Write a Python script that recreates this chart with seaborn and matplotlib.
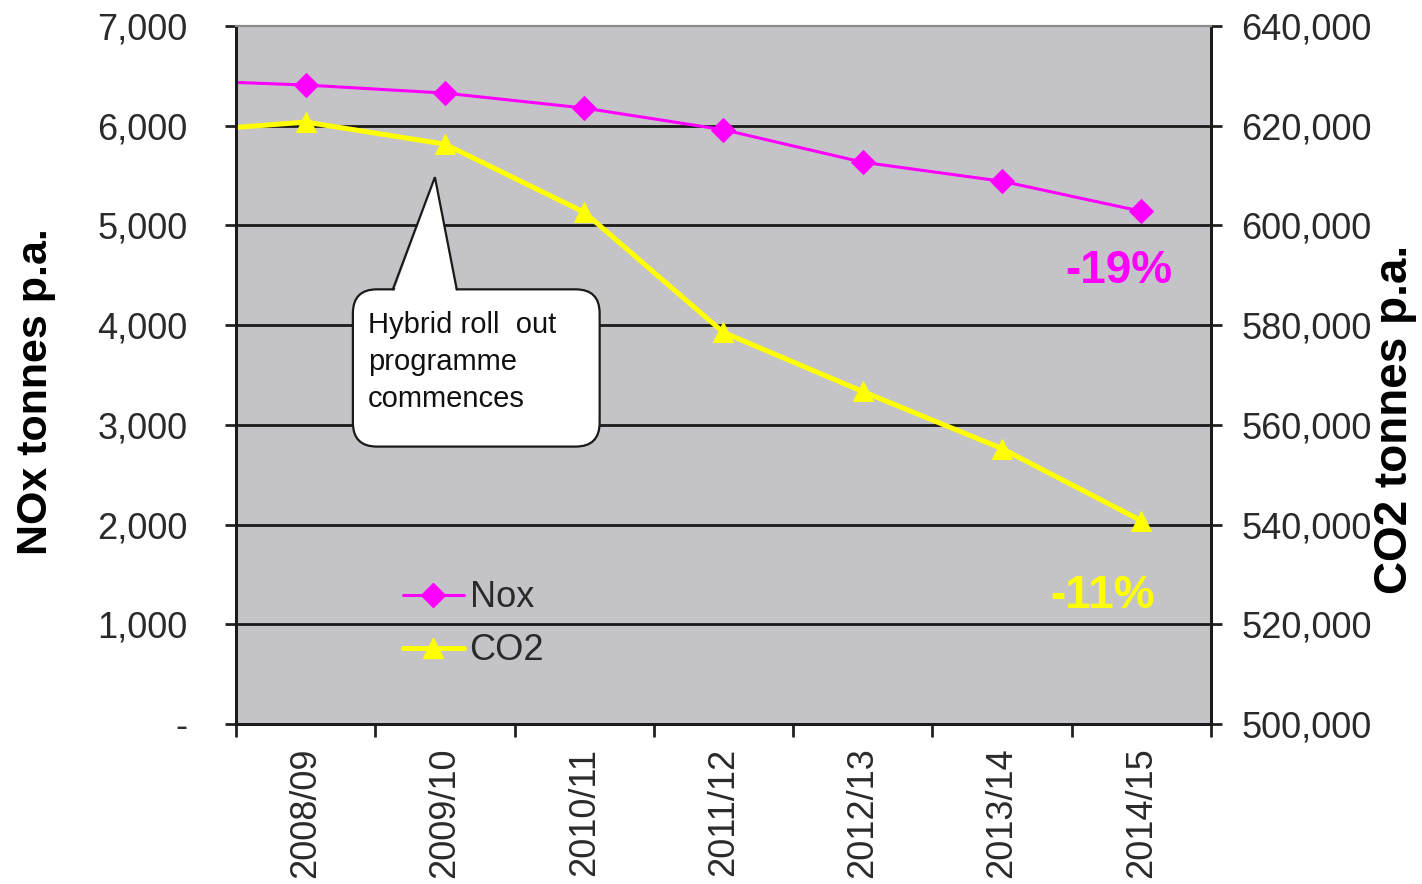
import numpy as np
import pandas as pd
import matplotlib
matplotlib.use("Agg")
import matplotlib.pyplot as plt
import seaborn as sns
from matplotlib.patches import FancyBboxPatch, Polygon
from matplotlib.lines import Line2D
from matplotlib.ticker import FuncFormatter, FixedLocator

# ---- data -------------------------------------------------------------
years = ["2007/08", "2008/09", "2009/10", "2010/11", "2011/12",
         "2012/13", "2013/14", "2014/15"]
nox_tonnes = [6460, 6408, 6327, 6177, 5960, 5634, 5443, 5142]
co2_tonnes = [618600, 620720, 616300, 602640, 578540, 566690, 555240, 540780]
shown_years = years[1:]
nox_change_label = "-19%"
co2_change_label = "-11%"
callout_text = "Hybrid roll  out\nprogramme\ncommences"

df = pd.DataFrame({
    "year": years,
    "pos": np.arange(len(years)) - 1,   # first year sits just left of the frame
    "Nox": nox_tonnes,
    "CO2": co2_tonnes,
})

# ---- style ------------------------------------------------------------
sns.set_style("ticks")
plt.rcParams["font.family"] = ["Liberation Sans", "DejaVu Sans"]

MAGENTA = "#ff00ff"
YELLOW = "#ffff00"
PANEL = "#c4c3c8"
TXT = "#2a2a2a"

fig = plt.figure(figsize=(14.22, 8.84), dpi=100)
ax = fig.add_axes([0.166, 0.181, 0.6855, 0.7896])
ax2 = ax.twinx()

ax.set_facecolor(PANEL)
ax.set_axisbelow(True)
ax2.patch.set_visible(False)

# ---- lines --------------------------------------------------------------
sns.lineplot(data=df, x="pos", y="Nox", ax=ax, color=MAGENTA, lw=2.2,
             marker="D", markersize=12, markeredgecolor=MAGENTA,
             sort=False, label="Nox", legend=False)
sns.lineplot(data=df, x="pos", y="CO2", ax=ax2, color=YELLOW, lw=3.6,
             marker="^", markersize=15, markeredgecolor=YELLOW,
             sort=False, label="CO2", legend=False)

# ---- axes ---------------------------------------------------------------
ax.set_xlim(-0.5, len(shown_years) - 0.5)
ax.set_ylim(0, 7000)
ax2.set_ylim(500000, 640000)

ax.set_yticks(np.arange(0, 7001, 1000))
ax2.set_yticks(np.arange(500000, 640001, 20000))
ax.yaxis.set_major_formatter(FuncFormatter(lambda v, p: "-" if v == 0 else f"{v:,.0f}"))
ax2.yaxis.set_major_formatter(FuncFormatter(lambda v, p: f"{v:,.0f}"))

ax.set_xticks(np.arange(len(shown_years)))
ax.set_xticklabels(shown_years, rotation=90)
ax.xaxis.set_minor_locator(FixedLocator(np.arange(len(shown_years) + 1) - 0.5))

ax.tick_params(axis="x", which="major", length=0, pad=17, labelsize=26, labelcolor=TXT)
ax.tick_params(axis="x", which="minor", length=9, width=2, color="#222222", direction="out")
ax.tick_params(axis="y", which="major", length=8, width=2, color="#222222",
               pad=27, labelsize=26, labelcolor=TXT, direction="out")
ax2.tick_params(axis="y", which="major", length=8, width=2, color="#222222",
                pad=14, labelsize=26, labelcolor=TXT, direction="out")

ax.set_xlabel("")
ax.set_ylabel("NOx tonnes p.a.", fontsize=31, fontweight="bold", color="black")
ax2.set_ylabel("CO2 tonnes p.a.", fontsize=33, fontweight="bold", color="black",
               rotation=90)
ax.yaxis.set_label_coords(-0.185, 0.476)
ax2.yaxis.set_label_coords(1.166, 0.436)

# horizontal grid lines at every 1,000 tonnes of NOx
ax.grid(False)
for v in range(1000, 7000, 1000):
    ax.axhline(v, color="#1a1a1a", lw=2, zorder=0.5)

for a in (ax, ax2):
    for side in ("left", "right", "bottom"):
        a.spines[side].set_color("#1a1a1a")
        a.spines[side].set_linewidth(2)
    a.spines["top"].set_color("#8a8a8a")
    a.spines["top"].set_linewidth(1.5)

# ---- change labels ------------------------------------------------------
ax.text(5.84, 4540, nox_change_label, color=MAGENTA, fontsize=33,
        fontweight="bold", ha="center", va="center", zorder=6)
ax.text(5.72, 1286, co2_change_label, color=YELLOW, fontsize=33,
        fontweight="bold", ha="center", va="center", zorder=6)

# ---- callout ------------------------------------------------------------
box_x0, box_x1 = 0.339, 2.111
box_y0, box_y1 = 2782, 4359
tip = (0.928, 5484)
base_l, base_r = 0.626, 1.085

px_x = 139.4      # pixels per category
px_y = 0.09957    # pixels per tonne
r_px = 24
r_x = r_px / px_x
box = FancyBboxPatch((box_x0, box_y0), box_x1 - box_x0, box_y1 - box_y0,
                     boxstyle=f"round,pad=0,rounding_size={r_x}",
                     mutation_aspect=(r_px / px_y) / r_x,
                     fc="white", ec="#1a1a1a", lw=1.6, zorder=4)
ax.add_patch(box)
pointer = Polygon([(base_l, box_y1 - 60), tip, (base_r, box_y1 - 60)],
                  closed=True, fc="white", ec="none", zorder=4.5)
ax.add_patch(pointer)
ax.plot([base_l, tip[0], base_r], [box_y1, tip[1], box_y1],
        color="#1a1a1a", lw=1.6, zorder=4.6, solid_joinstyle="miter")
ax.text(0.447, 3630, callout_text, fontsize=21, color="#111111",
        ha="left", va="center", linespacing=1.4, zorder=5)

# ---- legend -------------------------------------------------------------
handles = [
    Line2D([], [], color=MAGENTA, lw=2.2, marker="D", markersize=12,
           markeredgecolor=MAGENTA),
    Line2D([], [], color=YELLOW, lw=3.6, marker="^", markersize=15,
           markeredgecolor=YELLOW),
]
leg = ax2.legend(handles, ["Nox", "CO2"], loc="upper left",
                 bbox_to_anchor=(0.171, 0.206), frameon=False, fontsize=26,
                 handlelength=1.7, handletextpad=0.15, labelspacing=0.5,
                 borderpad=0, borderaxespad=0)
for t in leg.get_texts():
    t.set_color(TXT)

fig.savefig("out.png", dpi=100)
